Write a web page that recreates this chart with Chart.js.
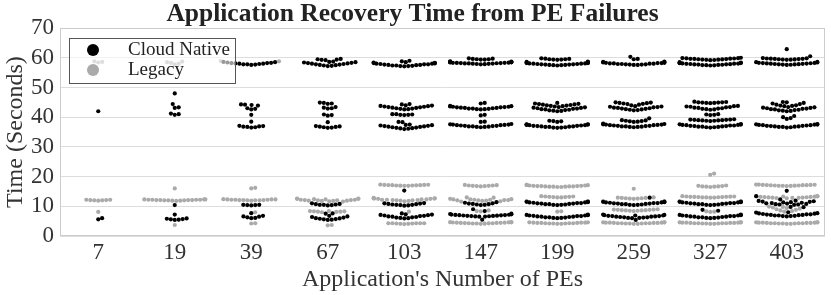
<!DOCTYPE html>
<html>
<head>
<meta charset="utf-8">
<script src="https://cdn.jsdelivr.net/npm/chart.js@4.4.0/dist/chart.umd.min.js"></script>
<style>
  body { margin: 0; background: #fff; }
  canvas { display: block; }
</style>
</head>
<body>
<canvas id="myChart" width="831" height="295"></canvas>
<script>
const categories = ["7", "19", "39", "67", "103", "147", "199", "259", "327", "403"];
const yTicks = [0, 10, 20, 30, 40, 50, 60, 70];

// recovery times (s) per category
const cloudNative = [
  [42.0, 6.0, 5.6],
  [48.0, 44.4, 43.3, 43.1, 41.2, 41.0, 40.8, 10.4, 7.2, 5.4, 5.5, 5.6, 5.7, 5.8, 5.9],
  [57.6, 57.7, 57.8, 57.8, 57.9, 58.0, 58.0, 58.1, 58.2, 58.2, 58.3, 58.4, 58.5, 58.6,
   40.8, 42.6, 42.8, 43.0, 43.9, 44.1, 44.2, 44.3,
   36.5, 36.6, 36.7, 36.8, 36.9, 37.0, 37.1, 38.5,
   10.3, 10.4, 10.4, 10.5, 10.5, 7.7, 6.0, 6.1, 6.3, 6.5, 6.6, 6.8],
  [57.2, 57.3, 57.4, 57.5, 57.6, 57.7, 57.8, 57.9, 58.0, 58.1, 58.2, 58.3, 58.4, 58.5, 58.6, 58.7,
   59.2, 59.3, 59.4, 59.5, 59.6,
   40.5, 40.7, 40.9, 42.9, 43.0, 43.2, 43.4, 44.5, 44.6, 44.8, 44.9,
   38.3, 36.4, 36.5, 36.6, 36.7, 36.8, 36.9, 37.0,
   11.0, 10.8, 10.7, 10.6, 10.5, 10.5, 10.4, 10.3,
   5.4, 5.5, 5.6, 5.7, 5.8, 5.9, 6.0, 6.2, 6.4, 6.6, 6.8, 7.5, 7.6],
  [57.1, 57.2, 57.2, 57.3, 57.4, 57.4, 57.5, 57.6, 57.6, 57.7, 57.8, 57.8, 57.9, 58.0, 58.0, 58.1, 58.2, 58.3, 58.4, 58.5,
   58.8, 59.0,
   40.7, 40.8, 40.8, 40.9, 41.0, 41.0,
   42.6, 42.7, 42.8, 42.9, 43.0, 43.1, 43.2, 43.3, 43.4, 43.5, 43.6, 43.7, 43.8, 43.9, 44.0, 44.3, 44.4,
   36.0, 36.1, 36.2, 36.3, 36.4, 36.5, 36.6, 36.7, 36.8, 36.9, 37.0, 37.1, 37.2, 37.3, 37.4, 37.5, 38.3, 38.4,
   15.3, 10.2, 10.3, 10.4, 10.5, 10.5, 10.6, 10.7, 10.8, 10.9, 11.0, 11.1,
   5.9, 6.0, 6.1, 6.2, 6.3, 6.4, 6.5, 6.6, 6.7, 6.8, 6.9, 7.0, 7.1, 7.2, 7.3, 7.6],
  [57.8, 57.85, 57.9, 57.95, 58.0, 58.05, 58.1, 58.1, 58.15, 58.2, 58.2, 58.25, 58.3, 58.3, 58.35, 58.4, 58.45, 58.5, 58.55, 58.6, 58.7, 58.8,
   59.4, 59.4, 59.5, 59.5, 59.6, 59.7, 59.8,
   40.6, 40.8, 42.6, 42.7, 42.7, 42.8, 42.9, 42.9, 43.0, 43.1, 43.1, 43.2, 43.3, 43.3, 43.4, 43.5, 43.5, 43.6, 43.7, 43.8, 44.6, 44.8,
   36.6, 36.7, 36.7, 36.8, 36.9, 36.9, 37.0, 37.1, 37.1, 37.2, 37.3, 37.3, 37.4, 37.5, 37.5, 37.6, 37.7, 38.4, 38.5,
   10.4, 10.5, 10.6, 10.7, 10.8, 10.9, 11.0, 11.2, 11.4, 9.0, 8.4,
   6.5, 6.55, 6.6, 6.65, 6.7, 6.75, 6.8, 6.85, 6.9, 6.95, 7.0, 7.05, 7.1, 7.15, 7.2, 7.3, 7.4, 7.5, 5.5],
  [57.4, 57.5, 57.5, 57.6, 57.6, 57.7, 57.7, 57.8, 57.8, 57.9, 57.9, 58.0, 58.0, 58.1, 58.1, 58.2, 58.2, 58.3, 58.4, 58.5, 58.6, 58.7,
   59.3, 59.4, 59.4, 59.5, 59.5, 59.6, 59.7, 59.8,
   42.0, 42.1, 42.2, 42.3, 42.4, 42.5, 42.6, 42.7, 42.8, 42.9, 43.0, 43.1, 43.2, 43.3, 43.4,
   43.6, 43.7, 43.8, 43.9, 44.0, 44.1, 44.2, 44.3, 44.4, 44.5, 44.6, 44.8,
   36.4, 36.5, 36.5, 36.6, 36.7, 36.7, 36.8, 36.9, 36.9, 37.0, 37.1, 37.1, 37.2, 37.3, 37.3, 37.4, 37.5, 37.5, 37.6, 37.6,
   38.4, 38.6, 38.7, 38.8,
   10.4, 10.5, 10.5, 10.6, 10.7, 10.7, 10.8, 10.9, 10.9, 11.0, 11.1, 11.1, 11.2, 11.3, 11.3, 11.4, 11.5, 11.6,
   6.0, 6.1, 6.1, 6.2, 6.3, 6.3, 6.4, 6.5, 6.5, 6.6, 6.7, 6.7, 6.8, 6.9, 6.9, 7.0, 7.1, 7.2],
  [57.6, 57.6, 57.7, 57.7, 57.8, 57.8, 57.9, 57.9, 58.0, 58.0, 58.1, 58.1, 58.2, 58.2, 58.3, 58.3, 58.4, 58.5, 58.6, 58.7,
   59.5, 59.6, 60.3,
   42.3, 42.4, 42.5, 42.6, 42.7, 42.8, 42.9, 43.0, 43.1, 43.2, 43.3, 43.4, 43.5, 43.6, 43.7,
   44.0, 44.2, 44.4, 44.5, 44.6, 44.7, 44.8, 44.9, 45.0,
   36.6, 36.7, 36.7, 36.8, 36.9, 36.9, 37.0, 37.1, 37.1, 37.2, 37.3, 37.3, 37.4, 37.5, 37.5, 37.6, 37.7, 37.8,
   38.4, 38.5, 38.6, 38.7, 38.8, 38.9, 39.0, 39.6,
   12.9, 10.4, 10.5, 10.5, 10.6, 10.7, 10.7, 10.8, 10.9, 10.9, 11.0, 11.1, 11.1, 11.2, 11.3, 11.3, 11.4, 11.5, 11.6,
   5.4, 6.0, 6.1, 6.1, 6.2, 6.3, 6.3, 6.4, 6.5, 6.5, 6.6, 6.7, 6.7, 6.8, 6.9, 6.9, 7.0, 7.1, 7.2],
  [57.4, 57.45, 57.5, 57.55, 57.6, 57.65, 57.7, 57.75, 57.8, 57.85, 57.9, 57.95, 58.0, 58.05, 58.1, 58.15, 58.2, 58.3, 58.4, 58.5,
   59.2, 59.25, 59.3, 59.35, 59.4, 59.45, 59.5, 59.55, 59.6, 59.65, 59.7, 59.75, 59.8, 59.85, 59.9, 60.0,
   40.7, 40.8, 40.9, 41.0,
   42.5, 42.6, 42.7, 42.8, 42.9, 43.0, 43.1, 43.2, 43.3, 43.4, 43.5, 43.6, 43.7, 43.8,
   44.7, 44.8, 44.8, 44.9, 44.9, 45.0, 45.0, 45.1, 45.2,
   36.5, 36.6, 36.6, 36.7, 36.8, 36.8, 36.9, 37.0, 37.0, 37.1, 37.2, 37.2, 37.3, 37.4, 37.4, 37.5, 37.6, 37.7,
   38.7, 38.8, 38.8, 38.9, 38.9, 39.0, 39.0, 39.1, 39.1, 39.2, 39.2, 39.3,
   10.4, 10.5, 10.5, 10.6, 10.7, 10.7, 10.8, 10.9, 10.9, 11.0, 11.1, 11.1, 11.2, 11.3, 11.3, 11.4, 11.5, 11.6, 8.5, 8.8,
   6.0, 6.1, 6.1, 6.2, 6.3, 6.3, 6.4, 6.5, 6.5, 6.6, 6.7, 6.7, 6.8, 6.9, 6.9, 7.0, 7.1, 7.2],
  [57.6, 57.65, 57.7, 57.75, 57.8, 57.85, 57.9, 57.95, 58.0, 58.05, 58.1, 58.15, 58.2, 58.25, 58.3, 58.4, 58.5, 58.6,
   59.3, 59.35, 59.4, 59.45, 59.5, 59.55, 59.6, 59.65, 59.7, 59.75, 59.8, 59.9, 60.5, 62.9,
   39.4, 39.7, 40.0, 40.4,
   42.0, 42.1, 42.2, 42.3, 42.4, 42.5, 42.6, 42.7, 42.8, 42.9, 43.0, 43.1, 43.2, 43.3, 43.4,
   43.7, 43.8, 43.9, 44.0, 44.2, 44.4, 44.6, 44.8, 45.0, 45.1,
   36.5, 36.6, 36.7, 36.7, 36.8, 36.9, 36.9, 37.0, 37.1, 37.1, 37.2, 37.3, 37.3, 37.4, 37.5, 37.5, 37.6, 37.7,
   15.2, 13.4, 12.3, 10.5, 10.6, 10.6, 10.7, 10.8, 10.9, 11.0, 11.1, 11.2, 11.3, 11.4, 11.5, 11.6, 11.7, 11.8, 11.9, 9.7, 9.8,
   6.6, 6.7, 6.7, 6.8, 6.9, 6.9, 7.0, 7.1, 7.1, 7.2, 7.3, 7.3, 7.4, 7.5, 7.6, 7.7, 7.9, 8.0]
];

const legacy = [
  [58.4, 58.6, 58.8, 11.9, 12.0, 12.0, 12.1, 12.1, 12.2, 12.2, 8.1],
  [57.8, 58.0, 58.3, 58.5, 58.7, 16.0,
   11.8, 11.9, 11.9, 12.0, 12.0, 12.0, 12.1, 12.1, 12.1, 12.1, 12.2, 12.2, 12.2, 12.2, 12.3, 12.3, 12.3, 3.7],
  [58.8, 58.9, 16.0, 16.2,
   11.9, 12.0, 12.0, 12.0, 12.1, 12.1, 12.1, 12.2, 12.2, 12.2, 12.3, 12.3, 12.3, 12.4, 8.0, 4.3, 4.2],
  [11.6, 11.7, 11.8, 11.8, 11.9, 11.9, 12.0, 12.0, 12.1, 12.1, 12.2, 12.2, 12.3, 12.4, 12.5, 12.5, 12.6, 12.6,
   8.0, 8.1, 8.2, 8.2, 8.3, 8.3, 8.4, 8.4, 3.7, 3.6],
  [16.9, 16.9, 16.95, 17.0, 17.0, 17.05, 17.1, 17.1, 17.15, 17.2, 17.2, 17.25, 17.3,
   11.7, 11.8, 11.9, 12.0, 12.0, 12.1, 12.1, 12.2, 12.2, 12.3, 12.3, 12.5, 12.5, 12.6, 12.6, 12.7, 12.7, 12.8,
   8.2, 4.0, 4.1, 4.1, 4.2, 4.2, 4.3, 4.3, 4.3, 4.3, 4.3],
  [16.7, 16.8, 16.8, 16.9, 16.9, 17.0, 17.0, 17.1, 17.2,
   11.6, 11.7, 11.8, 11.9, 12.0, 12.0, 12.1, 12.1, 12.2, 12.2, 12.3, 12.3, 12.4, 12.5, 12.9, 13.0,
   8.3, 8.4, 8.6,
   4.1, 4.15, 4.2, 4.2, 4.25, 4.3, 4.3, 4.35, 4.4, 4.4, 4.45, 4.5, 4.5, 4.55, 4.6, 4.6, 4.65, 4.7],
  [16.5, 16.5, 16.6, 16.6, 16.6, 16.7, 16.7, 16.7, 16.8, 16.8, 16.8, 16.9, 16.9, 17.0, 17.0, 17.1, 17.2, 17.2,
   11.6, 11.65, 11.7, 11.7, 13.0, 13.0, 13.1, 13.1, 13.2, 13.2, 13.3, 13.3, 13.4,
   8.2, 8.3,
   4.1, 4.1, 4.2, 4.2, 4.2, 4.3, 4.3, 4.3, 4.4, 4.4, 4.4, 4.5, 4.5, 4.5, 4.6, 4.6],
  [15.9, 12.5, 12.6, 12.6, 12.7, 12.7, 12.8, 12.8, 12.9, 13.0, 11.6, 11.65, 11.7, 11.7,
   8.4, 8.5, 8.5, 8.6, 8.6, 8.7, 8.7, 8.8, 8.8, 8.9, 8.9, 9.0,
   4.1, 4.1, 4.2, 4.2, 4.2, 4.3, 4.3, 4.3, 4.3, 4.4, 4.4, 4.4, 4.5, 4.5, 4.5, 4.6, 4.6, 4.6],
  [20.6, 21.0, 16.5, 16.6, 16.6, 16.7, 16.7, 16.8, 16.9, 17.0,
   12.9, 12.95, 13.0, 13.0, 13.05, 13.1, 13.1, 13.15, 13.2, 13.2, 13.25, 13.3, 13.3, 13.4, 11.6, 11.65, 11.7, 11.7,
   8.1, 8.2, 8.3,
   4.1, 4.1, 4.2, 4.2, 4.2, 4.3, 4.3, 4.3, 4.3, 4.4, 4.4, 4.4, 4.5, 4.5, 4.5, 4.6, 4.6, 4.6],
  [16.8, 16.85, 16.9, 16.9, 16.95, 17.0, 17.0, 17.05, 17.1, 17.1, 17.15, 17.2, 17.2, 17.25, 17.3, 17.3,
   12.7, 12.75, 12.8, 12.85, 12.9, 12.95, 13.0, 13.05, 13.1, 13.15, 13.2, 13.25, 13.3, 13.3, 13.35, 13.4,
   8.2, 8.4, 8.6, 8.8, 9.0, 9.2, 9.4, 9.6, 9.8, 9.9,
   4.1, 4.1, 4.2, 4.2, 4.2, 4.3, 4.3, 4.3, 4.3, 4.4, 4.4, 4.4, 4.5, 4.5, 4.5, 4.6, 4.6, 4.6]
];

const cnColor = "#000000";
const lgColor = "#aaaaaa";
const serif = "'Liberation Serif', 'Times New Roman', serif";
Chart.defaults.font.family = serif;
Chart.defaults.color = "#333";

// light frame around the plot area
const framePlugin = {
  id: "frame",
  beforeDatasetsDraw(chart) {
    const { ctx, chartArea: a } = chart;
    ctx.save();
    ctx.strokeStyle = "#cccccc";
    ctx.lineWidth = 1;
    ctx.strokeRect(Math.round(a.left) + 0.5, Math.round(a.top) + 0.5,
      Math.round(a.right - a.left) - 1, Math.round(a.bottom - a.top) - 1);
    ctx.restore();
  }
};

// legend box drawn inside the plot, top left
const legendPlugin = {
  id: "boxLegend",
  afterDatasetsDraw(chart) {
    const { ctx, chartArea: a } = chart;
    const x = Math.round(a.left) + 9, y = Math.round(a.top) + 10, w = 166, h = 45;
    ctx.save();
    ctx.fillStyle = "rgba(255,255,255,0.6)";
    ctx.fillRect(x, y, w, h);
    ctx.strokeStyle = "#555";
    ctx.lineWidth = 1;
    ctx.strokeRect(x + 0.5, y + 0.5, w, h);
    chart.data.datasets.forEach((ds, k) => {
      const cy = y + 12 + k * 20;
      ctx.beginPath();
      ctx.arc(x + 24, cy, 6, 0, Math.PI * 2);
      ctx.fillStyle = ds.backgroundColor;
      ctx.fill();
      ctx.fillStyle = "#222";
      ctx.font = "19px " + serif;
      ctx.textBaseline = "middle";
      ctx.fillText(ds.label, x + 59, cy);
    });
    ctx.restore();
  }
};

const ctx = document.getElementById("myChart");
const chart = new Chart(ctx, {
  type: "scatter",
  data: {
    datasets: [
      { label: "Cloud Native", data: [], backgroundColor: cnColor, pointRadius: 2.1, pointBorderWidth: 0, borderWidth: 0 },
      { label: "Legacy", data: [], backgroundColor: lgColor, pointRadius: 2.1, pointBorderWidth: 0, borderWidth: 0 }
    ]
  },
  options: {
    responsive: false,
    animation: false,
    devicePixelRatio: 1,
    layout: { padding: { left: 0, right: 6, top: 0, bottom: 0 } },
    plugins: {
      legend: { display: false },
      tooltip: { enabled: false },
      title: {
        display: true,
        text: "Application Recovery Time from PE Failures",
        color: "#222",
        font: { size: 25.5, weight: "bold", lineHeight: 1.1 },
        padding: { top: 0, bottom: 0 }
      }
    },
    scales: {
      x: {
        type: "linear",
        min: -0.5,
        max: 9.5,
        afterBuildTicks: (s) => { s.ticks = categories.map((c, i) => ({ value: i })); },
        afterFit: (s) => { s.height = 59; },
        ticks: { callback: (v) => categories[v], font: { size: 23 }, color: "#333", padding: 3, autoSkip: false, maxRotation: 0 },
        grid: { display: false, drawTicks: false },
        border: { display: false },
        title: { display: true, text: "Application's Number of PEs", font: { size: 24 }, color: "#333", padding: { top: 0, bottom: 1 } }
      },
      y: {
        min: 0,
        max: 70,
        afterBuildTicks: (s) => { s.ticks = yTicks.map((v) => ({ value: v })); },
        afterFit: (s) => { s.width = 60; },
        ticks: { font: { size: 23 }, color: "#333", padding: 6, autoSkip: false },
        grid: { color: "#dddddd", drawTicks: false },
        border: { display: false },
        title: { display: true, text: "Time (Seconds)", font: { size: 24 }, color: "#333", padding: { top: 1, bottom: 0 } }
      }
    }
  },
  plugins: [framePlugin, legendPlugin]
});

// beeswarm layout (same idea as seaborn's swarmplot), done in pixel space;
// vertical distances count a bit less than horizontal ones
function swarm(chart) {
  const xs = chart.scales.x, ys = chart.scales.y;
  const perCat = xs.getPixelForValue(1) - xs.getPixelForValue(0);
  const half = 0.4 * perCat;
  const d = 3.8, k = 0.85;
  const out = [[], []];
  categories.forEach((c, i) => {
    const pts = [];
    cloudNative[i].forEach((v) => pts.push({ v, s: 0 }));
    legacy[i].forEach((v) => pts.push({ v, s: 1 }));
    pts.forEach((p) => { p.py = ys.getPixelForValue(p.v) * k; });
    pts.sort((a, b) => b.py - a.py);
    const placed = [];
    pts.forEach((p) => {
      const nb = placed.filter((q) => Math.abs(q.py - p.py) < d);
      const cand = [0];
      nb.forEach((q) => {
        const dx = Math.sqrt(Math.max(d * d - (q.py - p.py) ** 2, 0)) * 1.05;
        cand.push(q.px + dx, q.px - dx);
      });
      cand.sort((a, b) => Math.abs(a) - Math.abs(b));
      let px = cand.find((x) => nb.every((q) => (q.px - x) ** 2 + (q.py - p.py) ** 2 >= d * d - 0.01));
      if (px === undefined) px = cand[cand.length - 1];
      p.px = px;
      placed.push(p);
    });
    placed.forEach((p) => {
      const off = Math.max(-half, Math.min(half, p.px));
      out[p.s].push({ x: i + off / perCat, y: p.v });
    });
  });
  chart.data.datasets[0].data = out[0];
  chart.data.datasets[1].data = out[1];
  chart.update("none");
}
swarm(chart);
</script>
</body>
</html>
